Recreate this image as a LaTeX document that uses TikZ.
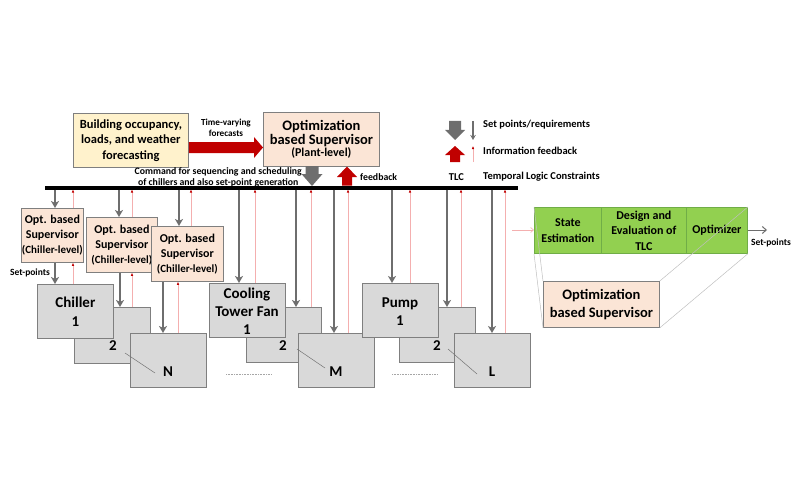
\documentclass[tikz,border=0pt]{standalone}
\usepackage{fontspec}
\setmainfont{Carlito}
\usetikzlibrary{arrows.meta}
\definecolor{peach}{HTML}{FBE5D6}
\definecolor{ylw}{HTML}{FFF2CC}
\definecolor{boxgray}{HTML}{D9D9D9}
\definecolor{edgegray}{HTML}{7F7F7F}
\definecolor{grn}{HTML}{92D050}
\definecolor{grnedge}{HTML}{70AD47}
\definecolor{darkred}{HTML}{C00000}
\definecolor{arrgray}{HTML}{6E6E6E}
\definecolor{pinkline}{HTML}{F4AFAF}
\newcommand{\fs}[2]{\fontsize{#1}{#2}\selectfont}
\begin{document}
\begin{tikzpicture}[x=1pt,y=-1pt,font=\bfseries,
  box/.style={draw=edgegray,line width=0.8pt,inner sep=0pt,align=center,anchor=north west},
  unitbox/.style={box,fill=boxgray,minimum width=76pt,minimum height=54pt},
  supbox/.style={box,fill=peach,minimum height=55pt,font=\bfseries\fs{12}{15}},
  greenbox/.style={box,draw=grnedge,fill=grn,minimum height=46pt,font=\bfseries\fs{12}{15.5}},
  garrow/.style={draw=arrgray,line width=1.7pt,-{Stealth[length=7pt,width=8pt,inset=2pt]}},
  rarrow/.style={draw=pinkline,line width=0.6pt,-{Latex[length=3pt,width=2.6pt,color=darkred]}},
  zoomline/.style={draw=black!25,line width=0.5pt},
  txt/.style={inner sep=0pt,align=center}]
\useasboundingbox (0,0) rectangle (800,500);

% top boxes
\node[box,fill=ylw,minimum width=115pt,minimum height=54pt,font=\bfseries\fs{12.5}{15.5}] (fc) at (73,113)
  {Building occupancy,\\loads, and weather\\forecasting};
\node[box,fill=peach,minimum width=116pt,minimum height=54pt] (plant) at (263,112)
  {{\fs{14.5}{17}Optimization}\\{\fs{14.5}{17}based Supervisor}\\{\fs{12}{15}(Plant-level)}};

% big red horizontal arrow
\fill[darkred] (fc.east |- 0,142) -- (254,142) -- (254,137) -- (plant.west |- 0,147.5) -- (254,158) -- (254,153) -- (fc.east |- 0,153) -- cycle;
\node[txt,font=\bfseries\fs{9.2}{11}] (tv) at (226,127.5) {Time-varying\\forecasts};

% bus
\coordinate (busL) at (45,187.5);
\coordinate (busR) at (518,187.5);
\coordinate (bus) at (0,189.5);
\draw[line width=4pt] (busL) -- (busR);

% big gray / red arrows under plant
\fill[arrgray] (305.5,166) -- (318.5,166) -- (318.5,174) -- (322.5,174) -- (312,186) -- (301.5,174) -- (305.5,174) -- cycle;
\fill[darkred] (342,185.5) -- (352,185.5) -- (352,177) -- (357,177) -- (347,166.5) -- (337,177) -- (342,177) -- cycle;
\node[txt,font=\bfseries\fs{9.8}{10.8},anchor=east] (cmd) at (302,177) {Command for sequencing and scheduling\\of chillers and also set-point generation};
\node[txt,font=\bfseries\fs{9.8}{11},anchor=west] (fb) at (360,177) {feedback};

% legend
\fill[arrgray] (449,121) -- (461,121) -- (461,130) -- (465,130) -- (455,140) -- (445,130) -- (449,130) -- cycle;
\fill[darkred] (450,162) -- (460,162) -- (460,155) -- (465,155) -- (455,146) -- (445,155) -- (450,155) -- cycle;
\coordinate (lg1) at (473,121);
\coordinate (lg2) at (473,140);
\coordinate (lr1) at (473,162);
\coordinate (lr2) at (473,146);
\draw[draw=arrgray,line width=1.1pt,-{Stealth[length=5pt,width=5.5pt,inset=1.5pt]}] (lg1) -- (lg2);
\draw[rarrow] (lr1) -- (lr2);
\node[txt,font=\bfseries\fs{10.5}{12},anchor=west] (lt1) at (483,124.5) {Set points/requirements};
\node[txt,font=\bfseries\fs{10.5}{12},anchor=west] (lt2) at (483,150.5) {Information feedback};
\node[txt,font=\bfseries\fs{10.5}{12}] (lt3) at (456.5,177) {TLC};
\node[txt,font=\bfseries\fs{10.5}{12},anchor=west] (lt4) at (483,177) {Temporal Logic Constraints};

% chiller-level supervisors
\node[supbox,minimum width=62pt,minimum height=54pt] (sup1) at (21,208) {Opt. based\\Supervisor\\{\fs{11}{14}(Chiller-level)}};
\node[supbox,minimum width=71pt] (sup2) at (86,217) {Opt. based\\Supervisor\\{\fs{11}{14}(Chiller-level)}};
\node[supbox,minimum width=72pt] (sup3) at (151,226) {Opt. based\\Supervisor\\{\fs{11}{14}(Chiller-level)}};
\node[txt,font=\bfseries\fs{9.5}{11}] (spl) at (30,273) {Set-points};

% chiller stack
\node[unitbox,minimum height=56pt] (ch2) at (74,307) {};
\node[unitbox] (ch1) at (37,284) {};
\node[unitbox] (chN) at (130,333) {};
\node[txt,font=\bfseries\fs{15}{19}] (ch1t) at (ch1.center) {Chiller\\1};
\node[txt,font=\bfseries\fs{15}{19}] (ch2t) at (113,346) {2};
\node[txt,font=\bfseries\fs{15}{19}] (chNt) at (168,371.5) {N};
\draw[draw=black!55,line width=0.5pt] (125,353) -- (155,373);

% cooling tower stack
\node[unitbox,minimum width=75pt,minimum height=55pt] (ct2) at (246,307) {};
\node[unitbox] (ct1) at (209,283) {};
\node[unitbox] (ctM) at (298,333) {};
\node[txt,font=\bfseries\fs{15}{18}] (ct1t) at (247,311) {Cooling\\Tower Fan\\1};
\node[txt,font=\bfseries\fs{15}{19}] (ct2t) at (283,346) {2};
\node[txt,font=\bfseries\fs{15}{19}] (ctMt) at (336,371.5) {M};
\draw[draw=black!55,line width=0.5pt] (297,349) -- (325,368);

% pump stack
\node[unitbox,minimum height=55pt] (p2) at (399,307) {};
\node[unitbox] (p1) at (362,283) {};
\node[unitbox] (pL) at (454,333) {};
\node[txt,font=\bfseries\fs{15}{18}] (p1t) at (400,312) {Pump\\1};
\node[txt,font=\bfseries\fs{15}{19}] (p2t) at (437,346) {2};
\node[txt,font=\bfseries\fs{15}{19}] (pLt) at (492,371.5) {L};
\draw[draw=black!55,line width=0.5pt] (448,349) -- (477,374);

% dotted separators
\draw[draw=black!35,line width=0.6pt,densely dotted] (226,374) -- (271,374);
\draw[draw=black!35,line width=0.6pt,densely dotted] (392,374) -- (437,374);

% gray set-point arrows
\draw[garrow] (55,0 |- bus) -- (55,0 |- sup1.north);
\draw[garrow] (119,0 |- bus) -- (119,0 |- sup2.north);
\draw[garrow] (179,0 |- bus) -- (179,0 |- sup3.north);
\draw[garrow] (55,0 |- sup1.south) -- (55,0 |- ch1.north);
\draw[garrow] (120,0 |- sup2.south) -- (120,0 |- ch2.north);
\draw[garrow] (163,0 |- sup3.south) -- (163,0 |- chN.north);
\draw[garrow] (239,0 |- bus) -- (239,0 |- ct1.north);
\draw[garrow] (296,0 |- bus) -- (296,0 |- ct2.north);
\draw[garrow] (334,0 |- bus) -- (334,0 |- ctM.north);
\draw[garrow] (392,0 |- bus) -- (392,0 |- p1.north);
\draw[garrow] (447,0 |- bus) -- (447,0 |- p2.north);
\draw[garrow] (492,0 |- bus) -- (492,0 |- pL.north);

% red feedback arrows
\draw[rarrow] (73,0 |- sup1.north) -- (73,0 |- bus);
\draw[rarrow] (73,0 |- ch1.north) -- (73,0 |- sup1.south);
\draw[rarrow] (132,0 |- sup2.north) -- (132,0 |- bus);
\draw[rarrow] (132,0 |- ch2.north) -- (132,0 |- sup2.south);
\draw[rarrow] (191,0 |- sup3.north) -- (191,0 |- bus);
\draw[rarrow] (178,0 |- chN.north) -- (178,0 |- sup3.south);
\draw[rarrow] (255,0 |- ct1.north) -- (255,0 |- bus);
\draw[rarrow] (311,0 |- ct2.north) -- (311,0 |- bus);
\draw[rarrow] (348,0 |- ctM.north) -- (348,0 |- bus);
\draw[rarrow] (410,0 |- p1.north) -- (410,0 |- bus);
\draw[rarrow] (461,0 |- p2.north) -- (461,0 |- bus);
\draw[rarrow] (505,0 |- pL.north) -- (505,0 |- bus);

% right detail: TLC supervisor
\node[box,fill=peach,minimum width=116pt,minimum height=46pt,font=\bfseries\fs{14.5}{18}] (osup) at (543,281) {Optimization\\based Supervisor};
\node[greenbox,minimum width=67pt] (se) at (534,207) {State\\Estimation};
\node[greenbox,minimum width=85pt] (dt) at (601,207) {Design and\\Evaluation of\\TLC};
\node[greenbox,minimum width=61pt] (op) at (686,207) {Optimizer};
\draw[zoomline] (se.north west) -- (osup.north west);
\draw[zoomline] (se.south west) -- (osup.south west);
\draw[zoomline] (op.north east) -- (osup.north east);
\draw[zoomline] (op.south east) -- (osup.south east);
\coordinate (gin) at (512,230);
\coordinate (gout) at (767,230);
\draw[draw=pinkline,line width=0.6pt,-{Straight Barb[length=3pt,width=5pt]}] (gin) -- (se.west |- gin);
\draw[draw=arrgray,line width=1pt,-{Straight Barb[length=4pt,width=7pt]}] (op.east |- gout) -- (gout);
\node[txt,font=\bfseries\fs{9.5}{11}] (spr) at (771,243) {Set-points};
\end{tikzpicture}
\end{document}
